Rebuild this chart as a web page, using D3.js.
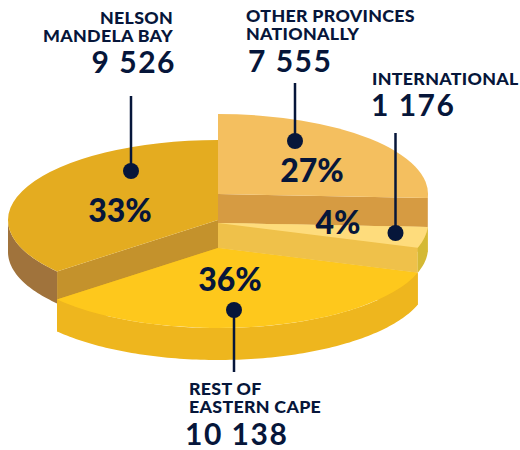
<!DOCTYPE html>
<html>
<head>
<meta charset="utf-8">
<script src="https://cdn.jsdelivr.net/npm/d3@7"></script>
<style>
  html, body { margin: 0; padding: 0; background: #fff; }
  text { font-family: Lato, "Open Sans", sans-serif; fill: #06163a; }
</style>
</head>
<body>
<div id="chart"></div>
<script>
// Data, clockwise from the top of the pie
const names = ["OTHER PROVINCES|NATIONALLY", "INTERNATIONAL", "REST OF|EASTERN CAPE", "NELSON|MANDELA BAY"];
const counts = [7555, 1176, 10138, 9526];
const percents = [27, 4, 36, 33];
// Sweep of each slice as it is drawn in the picture (share of the circle, %)
const drawnShares = [25.8, 4.2, 33.9, 36.1];

// Per slice styling / placement
const topColors = ["#f4bf5f", "#fedc7c", "#fec81c", "#e4ac20"];
const rimColors = ["#d69b42", "#d4b934", "#eeb61e", "#a0733c"];
const cutColors = ["#d69b42", "#efc14a", "#eeb61e", "#c4922c"];
const centerY = [194, 223, 248, 220];
const depths = [29, 25, 32, 32];

const width = 520, height = 450;
const centerX = 218, rx = 210, ry = 80;

const svg = d3.select("#chart").append("svg")
  .attr("width", width)
  .attr("height", height)
  .style("display", "block");

const pie = d3.pie().sort(null);
const arcs = pie(drawnShares);
const arc = d3.arc().innerRadius(0).outerRadius(rx);
const line = d3.line();

// Screen position of a rim point at a pie angle
const rim = (angle, cy) => [centerX + rx * Math.sin(angle), cy - ry * Math.cos(angle)];

// Paint back to front
[3, 0, 1, 2].forEach((i) => {
  const a = arcs[i], cy = centerY[i], depth = depths[i];
  const g = svg.append("g");

  // Flat cut walls running from the centre to the rim
  [a.startAngle, a.endAngle].forEach((angle) => {
    const p = rim(angle, cy);
    g.append("path")
      .attr("d", line([[centerX, cy], p, [p[0], p[1] + depth], [centerX, cy + depth]]) + "Z")
      .attr("fill", cutColors[i]);
  });

  // Curved outer wall, only the part that faces the viewer
  const from = Math.max(a.startAngle, Math.PI / 2);
  const to = Math.min(a.endAngle, Math.PI * 1.5);
  if (to > from) {
    const steps = d3.range(from, to, 0.02).concat([to]);
    const upper = steps.map((t) => rim(t, cy));
    const lower = steps.map((t) => rim(t, cy + depth)).reverse();
    g.append("path")
      .attr("d", line(upper.concat(lower)) + "Z")
      .attr("fill", rimColors[i]);
  }

  // Top face
  g.append("path")
    .attr("d", arc(a))
    .attr("transform", `translate(${centerX},${cy}) scale(1,${ry / rx})`)
    .attr("fill", topColors[i]);
});

// Leader lines and dots
const leaderX = [295, 395.5, 234, 131];
const leaderFrom = [83, 133, 372, 96];
const dotY = [141, 233, 310, 171];
names.forEach((n, i) => {
  svg.append("line")
    .attr("x1", leaderX[i]).attr("x2", leaderX[i])
    .attr("y1", leaderFrom[i]).attr("y2", dotY[i])
    .attr("stroke", "#06163a")
    .attr("stroke-width", 2.5);
  svg.append("circle")
    .attr("cx", leaderX[i]).attr("cy", dotY[i]).attr("r", 8)
    .attr("fill", "#06163a");
});

// Percent labels
const pctX = [312, 338, 230, 120];
const pctY = [182, 234, 291, 222];
percents.forEach((p, i) => {
  svg.append("text")
    .attr("x", pctX[i]).attr("y", pctY[i])
    .attr("text-anchor", "middle")
    .style("font-size", "32px")
    .style("font-weight", 900)
    .text(p + "%");
});

// Name and count labels
const fmt = d3.formatLocale({ thousands: "\u00a0", grouping: [3], decimal: ".", currency: ["", ""] }).format(",");
const nameX = [246, 372, 189, 173];
const nameY = [22, 85, 395, 24];
const countX = [248, 371, 185, 176];
const countY = [72, 116, 445, 73];
const anchors = ["start", "start", "start", "end"];
names.forEach((n, i) => {
  // Tight leading as in the reference, so the lines share one text element
  const label = svg.append("text")
    .attr("text-anchor", anchors[i])
    .style("font-size", "17.8px")
    .style("font-weight", 900)
    .style("letter-spacing", "0.3px");
  n.split("|").forEach((part, j) => {
    label.append("tspan")
      .attr("x", nameX[i]).attr("y", nameY[i] + j * 18)
      .text(part);
  });
  svg.append("text")
    .attr("x", countX[i]).attr("y", countY[i])
    .attr("text-anchor", anchors[i])
    .style("font-size", "30px")
    .style("font-weight", 700)
    .style("letter-spacing", "1.5px")
    .text(fmt(counts[i]));
});
</script>
</body>
</html>
